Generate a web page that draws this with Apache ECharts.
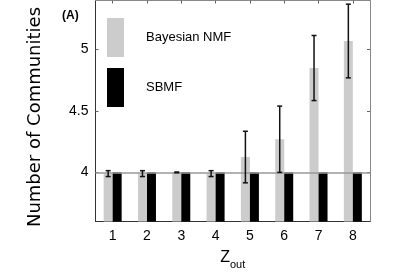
<!DOCTYPE html>
<html><head><meta charset="utf-8">
<script src="https://cdn.jsdelivr.net/npm/echarts@6/dist/echarts.min.js"></script>
<style>html,body{margin:0;padding:0;background:#fff}#c{width:409px;height:273px}</style>
</head><body><div id="c"></div>
<script>
var categories = ['1','2','3','4','5','6','7','8'];
var bayesNMF = [3.99, 3.99, 4.0, 3.99, 4.125, 4.27, 4.85, 5.07];
var bayesErr = [0.024, 0.024, 0.003, 0.024, 0.21, 0.27, 0.265, 0.30];
var sbmf = [4, 4, 4, 4, 4, 4, 4, 4];
var yTicks = [4, 4.5, 5];

var errData = categories.map(function (c, i) { return [i, bayesNMF[i] - bayesErr[i], bayesNMF[i] + bayesErr[i]]; });
var narrow = '"Liberation Sans Narrow", "Arial Narrow", "Liberation Sans", sans-serif';
var BW = 9;

var chart = echarts.init(document.getElementById('c'), null, {renderer: 'canvas'});
chart.setOption({
  animation: false,
  backgroundColor: '#fff',
  title: {text: '(A)', left: 57, top: 5, textStyle: {fontFamily: narrow, fontWeight: 'bold', fontSize: 12, color: '#000'}},
  legend: {
    orient: 'vertical', left: 102, top: 13, itemGap: 11, itemWidth: 17, itemHeight: 39,
    icon: 'rect',
    data: ['Bayesian NMF', 'SBMF'],
    textStyle: {fontFamily: narrow, fontSize: 13, color: '#000', padding: [0, 0, 0, 17]}
  },
  grid: {left: 95.5, right: 39, top: 0.5, bottom: 51.5, containLabel: false, outerBoundsMode: 'none'},
  xAxis: [{
    type: 'category', data: categories,
    axisLine: {lineStyle: {color: '#333'}},
    axisTick: {show: false},
    axisLabel: {fontFamily: narrow, fontSize: 14, color: '#000', margin: 8},
    name: '{z|Z}{s|out}', nameLocation: 'middle', nameGap: 24,
    nameTextStyle: {verticalAlign: 'top', rich: {z: {fontFamily: narrow, fontSize: 16, color: '#000'}, s: {fontFamily: narrow, fontSize: 11, color: '#000', padding: [14, 0, 0, 0]}}}
  }, {
    type: 'category', data: categories, position: 'top',
    axisLine: {lineStyle: {color: '#888'}},
    axisTick: {show: true, inside: true, alignWithLabel: true, length: 3, lineStyle: {color: '#666'}},
    axisLabel: {show: false}
  }],
  yAxis: [{
    type: 'value', min: 3.6, max: 5.4,
    axisLine: {show: true, lineStyle: {color: '#333'}},
    axisTick: {show: true, inside: true, length: 3, customValues: yTicks, lineStyle: {color: '#666'}},
    axisLabel: {customValues: yTicks, fontFamily: narrow, fontSize: 14, color: '#000', margin: 7},
    splitLine: {show: false},
    name: 'Number of Communities', nameLocation: 'middle', nameGap: 51,
    nameTextStyle: {fontFamily: '"DejaVu Sans", sans-serif', fontSize: 18, color: '#000', padding: [0, 0, 0, -12]}
  }, {
    type: 'value', min: 3.6, max: 5.4, position: 'right',
    axisLine: {show: true, lineStyle: {color: '#888'}},
    axisTick: {show: true, inside: true, length: 3, customValues: yTicks, lineStyle: {color: '#666'}},
    axisLabel: {show: false},
    splitLine: {show: false}
  }],
  series: [{
    name: 'Bayesian NMF', type: 'bar', data: bayesNMF, barWidth: BW, barGap: '0%',
    itemStyle: {color: '#cccccc'}
  }, {
    name: 'SBMF', type: 'bar', data: sbmf, barWidth: BW, barGap: '0%',
    itemStyle: {color: '#000'},
    markLine: {silent: true, symbol: 'none', label: {show: false},
      lineStyle: {color: '#999', type: 'solid', width: 1.5},
      data: [{yAxis: 4}]}
  }, {
    type: 'custom', data: errData, z: 5,
    renderItem: function (params, api) {
      var x = api.coord([api.value(0), 0])[0] - BW / 2;
      var lo = api.coord([api.value(0), api.value(1)])[1];
      var hi = api.coord([api.value(0), api.value(2)])[1];
      var h = 2.5;
      var st = {stroke: '#111', lineWidth: 1.5};
      return {type: 'group', children: [
        {type: 'line', shape: {x1: x, y1: lo, x2: x, y2: hi}, style: st},
        {type: 'line', shape: {x1: x - h, y1: lo, x2: x + h, y2: lo}, style: st},
        {type: 'line', shape: {x1: x - h, y1: hi, x2: x + h, y2: hi}, style: st}
      ]};
    }
  }]
});
</script></body></html>
